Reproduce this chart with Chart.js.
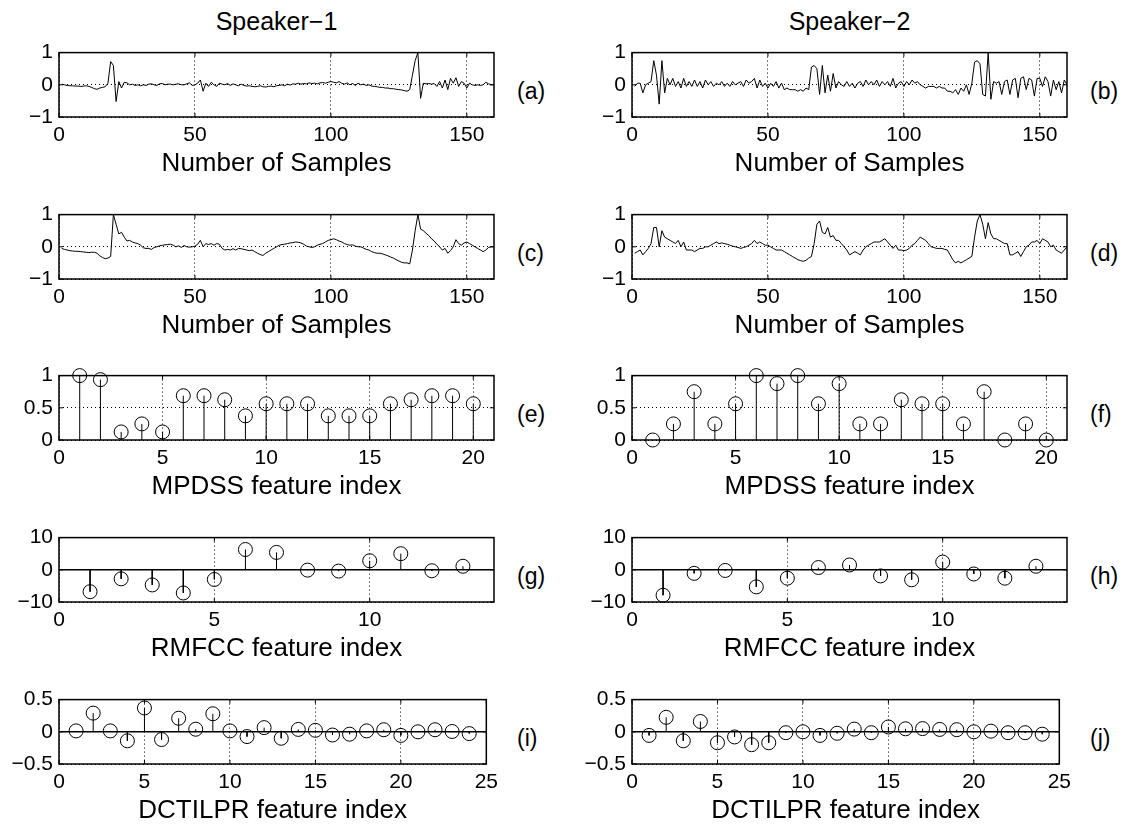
<!DOCTYPE html>
<html><head><meta charset="utf-8">
<script src="https://cdn.jsdelivr.net/npm/chart.js@4.4.0/dist/chart.umd.min.js"></script>
<style>
html,body{margin:0;padding:0;background:#fff;}
body{width:1121px;height:829px;position:relative;overflow:hidden;font-family:'Liberation Sans',Arial,Helvetica,sans-serif;}
canvas{position:absolute;}
.t{position:absolute;color:#000;white-space:nowrap;}
</style></head><body>
<script>
// ---------- data ----------
const speakers = ['Speaker−1', 'Speaker−2'];
const panelLabels = ['(a)','(b)','(c)','(d)','(e)','(f)','(g)','(h)','(i)','(j)'];
const xTitles = ['Number of Samples','Number of Samples','MPDSS feature index','RMFCC feature index','DCTILPR feature index'];

const sampleTicks = [0,50,100,150];
const mpdssTicks = [0,5,10,15,20];
const rmfccTicks = [0,5,10];
const dctTicks = [0,5,10,15,20,25];
const waveYTicks = [-1,0,1];
const mpdssYTicks = [0,0.5,1];
const rmfccYTicks = [-10,0,10];
const dctYTicks = [-0.5,0,0.5];

const s1Wave = [
 0.02,0.0,-0.02,-0.03,-0.03,-0.04,-0.04,-0.05,-0.04,-0.03,
 -0.05,-0.08,-0.12,-0.14,-0.1,-0.08,-0.06,0.05,0.72,0.6,
 -0.52,0.1,-0.1,0.08,0.06,0.0,0.02,-0.02,0.0,-0.03,
 0.0,-0.02,0.02,0.03,0.0,-0.02,0.03,0.04,0.0,0.02,
 0.02,0.0,0.02,0.03,0.0,0.0,0.03,0.06,-0.02,0.0,
 0.05,0.15,-0.2,0.05,-0.05,0.08,0.0,-0.05,0.05,0.02,
 0.0,0.04,-0.02,0.03,0.0,-0.03,0.02,-0.02,-0.04,-0.03,
 -0.05,-0.06,-0.05,-0.03,-0.06,-0.07,-0.05,-0.04,-0.06,-0.03,
 -0.02,0.0,-0.03,0.02,-0.01,0.03,0.02,0.05,0.02,0.04,
 0.03,0.06,0.04,0.05,0.03,0.06,0.07,0.05,0.08,0.1,
 0.08,0.06,0.1,0.05,0.02,0.06,0.0,0.04,-0.02,0.05,
 0.0,0.02,-0.02,0.0,-0.04,-0.05,-0.06,-0.08,-0.08,-0.1,
 -0.1,-0.12,-0.12,-0.14,-0.15,-0.16,-0.18,-0.2,-0.15,0.3,
 0.75,1.0,-0.42,0.05,0.03,0.04,0.02,0.04,-0.05,0.1,
 -0.1,0.15,-0.15,0.2,0.05,0.22,-0.05,0.1,0.05,-0.1,
 0.05,0.0,-0.02,0.0,-0.02,0.0,0.08,0.03,0.0,0.0
];
const s2Wave = [
 -0.05,0.05,0.05,-0.25,0.0,0.05,0.1,0.75,0.3,-0.6,
 0.75,-0.25,0.2,0.0,0.2,-0.05,0.1,-0.1,0.2,-0.05,
 0.1,-0.05,0.15,-0.05,0.1,-0.1,0.15,0.0,0.1,-0.05,
 0.05,0.0,0.1,-0.05,0.05,-0.05,0.1,0.0,0.05,0.1,
 -0.05,0.15,0.05,0.1,0.2,-0.1,0.15,-0.05,0.05,-0.1,
 0.05,-0.05,0.1,-0.1,0.05,-0.15,-0.1,-0.15,-0.15,-0.15,
 -0.2,-0.15,-0.2,-0.1,-0.15,0.55,0.6,0.5,-0.3,0.6,
 -0.25,0.3,-0.2,0.35,-0.1,0.1,0.0,-0.05,0.1,-0.05,
 0.05,-0.1,0.05,0.1,-0.05,0.15,0.0,0.1,0.0,0.15,
 -0.05,0.1,0.0,0.1,-0.05,0.2,-0.1,0.05,0.1,-0.05,
 0.1,0.0,0.15,0.05,0.1,0.0,-0.05,-0.1,-0.05,-0.05,
 -0.05,-0.1,-0.05,-0.1,-0.1,-0.2,-0.2,-0.25,-0.15,-0.3,
 -0.1,-0.2,0.0,-0.3,0.05,0.7,0.75,0.65,-0.3,-0.35,
 1.0,-0.45,0.1,0.05,0.1,-0.3,0.1,0.15,-0.3,0.15,
 0.2,-0.4,0.2,0.25,-0.15,0.2,0.15,-0.35,0.2,0.2,
 -0.05,0.25,0.1,-0.35,0.15,-0.15,0.1,-0.25,0.15,0.0
];
const s1Res = [
 -0.05,-0.08,-0.1,-0.12,-0.13,-0.14,-0.14,-0.15,-0.16,-0.17,
 -0.18,-0.17,-0.17,-0.2,-0.28,-0.33,-0.37,-0.35,-0.3,1.0,
 0.7,0.4,0.45,0.3,0.18,0.2,0.15,0.12,0.1,0.05,
 -0.03,-0.05,-0.05,-0.08,-0.02,0.0,0.03,0.05,0.06,0.07,
 0.08,0.05,0.0,0.03,-0.02,0.04,0.0,-0.01,0.0,0.02,
 0.08,0.2,0.0,0.1,0.07,0.1,0.05,0.1,0.08,-0.05,
 -0.1,-0.08,-0.1,-0.06,-0.1,-0.05,-0.06,-0.08,-0.1,-0.12,
 -0.1,-0.15,-0.2,-0.24,-0.27,-0.2,-0.15,-0.1,-0.05,0.0,
 0.05,0.07,0.08,0.1,0.12,0.13,0.15,0.14,0.12,0.08,
 0.02,0.0,-0.02,0.0,0.05,0.08,0.1,0.15,0.2,0.22,
 0.25,0.22,0.18,0.15,0.1,0.07,0.05,0.06,0.02,0.0,
 0.0,-0.04,-0.08,-0.1,-0.15,-0.18,-0.2,-0.2,-0.22,-0.25,
 -0.28,-0.32,-0.35,-0.4,-0.44,-0.48,-0.5,-0.5,-0.53,-0.1,
 0.5,1.0,0.55,0.5,0.42,0.35,0.25,0.18,0.08,0.0,
 -0.1,-0.05,-0.2,-0.12,0.0,0.22,0.1,0.05,0.12,0.15,
 0.1,0.05,0.0,-0.05,-0.1,-0.15,-0.1,-0.02,0.0,0.0
];
const s2Res = [
 -0.2,-0.15,-0.1,-0.25,-0.15,-0.05,0.1,0.6,0.6,0.0,
 0.5,0.3,0.25,0.2,0.15,0.1,0.2,0.0,0.15,-0.1,
 -0.1,-0.1,-0.15,-0.1,-0.05,-0.05,0.0,0.0,0.05,0.1,
 0.15,0.1,0.12,0.1,0.08,0.05,0.02,0.0,-0.02,-0.05,
 -0.02,0.0,0.05,0.1,0.2,0.1,0.15,0.1,0.05,0.05,
 0.0,-0.05,-0.1,-0.1,-0.1,-0.15,-0.2,-0.25,-0.3,-0.35,
 -0.4,-0.43,-0.45,-0.42,-0.35,-0.3,0.1,0.7,0.8,0.45,
 0.4,0.6,0.3,0.35,0.2,0.2,0.1,0.0,-0.1,-0.25,
 -0.2,-0.15,-0.2,-0.25,-0.1,0.0,0.05,0.1,0.15,0.15,
 0.15,0.2,0.25,0.15,0.05,-0.05,0.05,-0.1,-0.1,-0.12,
 -0.1,-0.05,0.05,0.1,0.2,0.3,0.25,0.2,0.1,0.0,
 -0.02,-0.05,-0.05,-0.05,-0.08,-0.1,-0.25,-0.4,-0.5,-0.45,
 -0.5,-0.45,-0.4,-0.35,-0.3,0.3,0.8,1.0,0.7,0.25,
 0.75,0.4,0.25,0.25,0.2,0.15,0.1,0.1,-0.25,-0.25,
 -0.2,-0.15,-0.3,-0.15,0.0,0.05,0.15,0.15,0.2,0.1,
 0.25,0.2,0.15,0.0,0.05,-0.1,-0.15,-0.2,-0.1,0.0
];
const s1Mpdss = [1.0,0.9375,0.125,0.25,0.125,0.6875,0.6875,0.625,0.375,0.5625,0.5625,0.5625,0.375,0.375,0.375,0.5625,0.625,0.6875,0.6875,0.5625];
const s2Mpdss = [0,0.25,0.75,0.25,0.5625,1.0,0.875,1.0,0.5625,0.875,0.25,0.25,0.625,0.5625,0.5625,0.25,0.75,0,0.25,0];
const s1Rmfcc = [-6.8,-2.8,-4.7,-7.2,-3.0,6.3,5.4,-0.1,-0.4,2.8,5.0,-0.3,1.1];
const s2Rmfcc = [-7.9,-1.1,-0.2,-5.3,-2.6,0.7,1.5,-1.9,-3.1,2.4,-1.3,-2.6,1.1];
const s1Dct = [0.014,0.29,0.014,-0.14,0.37,-0.12,0.21,0.04,0.28,0.014,-0.074,0.065,-0.10,0.037,0.023,-0.05,-0.037,0.014,0.032,-0.056,0.0,0.032,0.005,-0.028];
const s2Dct = [-0.056,0.225,-0.14,0.16,-0.17,-0.08,-0.2,-0.17,-0.014,0.0,-0.056,-0.023,0.042,-0.014,0.075,0.047,0.05,0.037,0.033,0.0,0.01,-0.014,-0.014,-0.037];

// ---------- layout ----------
const FONT = "'Liberation Sans', Arial, Helvetica, sans-serif";
const TICK_FS = 21, LABEL_FS = 26, TITLE_FS = 25, PANEL_FS = 23;
const colLeft = [59, 632];
const boxW = 435, boxH = 73;
const rowTop = [44, 206, 367, 529, 691];
const padL = 59, padT = 10, padR = 10, axisH = 70;

Chart.defaults.font.family = FONT;
Chart.defaults.font.size = TICK_FS;
Chart.defaults.color = '#000';

const panels = [
 {wave:s1Wave, xMax:160, xt:sampleTicks, yMin:-1, yMax:1, yt:waveYTicks},
 {wave:s2Wave, xMax:160, xt:sampleTicks, yMin:-1, yMax:1, yt:waveYTicks},
 {wave:s1Res, xMax:160, xt:sampleTicks, yMin:-1, yMax:1, yt:waveYTicks},
 {wave:s2Res, xMax:160, xt:sampleTicks, yMin:-1, yMax:1, yt:waveYTicks},
 {stem:s1Mpdss, xMax:21, xt:mpdssTicks, yMin:0, yMax:1, yt:mpdssYTicks},
 {stem:s2Mpdss, xMax:21, xt:mpdssTicks, yMin:0, yMax:1, yt:mpdssYTicks},
 {stem:s1Rmfcc, xMax:14, xt:rmfccTicks, yMin:-10, yMax:10, yt:rmfccYTicks, base:true},
 {stem:s2Rmfcc, xMax:14, xt:rmfccTicks, yMin:-10, yMax:10, yt:rmfccYTicks, base:true},
 {stem:s1Dct, xMax:25, xt:dctTicks, yMin:-0.5, yMax:0.5, yt:dctYTicks, base:true},
 {stem:s2Dct, xMax:25, xt:dctTicks, yMin:-0.5, yMax:0.5, yt:dctYTicks, base:true}
];

const fmt = v => String(v).replace('-', '\u2212');

// axes box with MATLAB-style inward tick marks
const frame = {
  id:'frame',
  afterDraw(chart){
    const {ctx, chartArea:a, scales} = chart;
    ctx.save();
    ctx.strokeStyle = '#000';
    ctx.setLineDash([]);
    ctx.lineWidth = 1;
    const tl = 4;
    ctx.beginPath();
    scales.x.ticks.forEach(t => {
      const px = scales.x.getPixelForValue(t.value);
      ctx.moveTo(px, a.bottom); ctx.lineTo(px, a.bottom - tl);
      ctx.moveTo(px, a.top); ctx.lineTo(px, a.top + tl);
    });
    scales.y.ticks.forEach(t => {
      const py = scales.y.getPixelForValue(t.value);
      ctx.moveTo(a.left, py); ctx.lineTo(a.left + tl, py);
      ctx.moveTo(a.right, py); ctx.lineTo(a.right - tl, py);
    });
    ctx.stroke();
    ctx.lineWidth = 1.5;
    ctx.strokeRect(a.left, a.top, a.right - a.left, a.bottom - a.top);
    ctx.restore();
  }
};

// place text by its baseline (Liberation Sans metrics, line-height = 1em)
function addText(txt, fs, x, baseline, center){
  const d = document.createElement('div');
  d.className = 't'; d.textContent = txt;
  d.style.fontSize = fs + 'px'; d.style.lineHeight = fs + 'px';
  d.style.left = x + 'px';
  d.style.top = (baseline - 0.8465 * fs) + 'px';
  if (center) d.style.transform = 'translateX(-50%)';
  document.body.appendChild(d);
}

speakers.forEach((s, c) => addText(s, TITLE_FS, colLeft[c] + boxW/2, 30, true));

panels.forEach((p, i) => {
  const col = i % 2, row = Math.floor(i / 2);
  const cv = document.createElement('canvas');
  const W = padL + boxW + padR, H = padT + boxH + axisH;
  cv.width = W; cv.height = H;
  cv.style.left = (colLeft[col] - padL) + 'px';
  cv.style.top = (rowTop[row] - padT) + 'px';
  cv.style.width = W + 'px'; cv.style.height = H + 'px';
  document.body.appendChild(cv);

  const datasets = [];
  if (p.wave) {
    datasets.push({type:'line', data:p.wave.map((v,k)=>({x:k+1, y:v})), borderColor:'#000', borderWidth:1, pointRadius:0, tension:0});
  } else {
    if (p.base) datasets.push({type:'line', data:[{x:0,y:0},{x:p.xMax,y:0}], borderColor:'#000', borderWidth:1.5, pointRadius:0});
    const st = [];
    p.stem.forEach((v,k)=>{ st.push({x:k+1,y:0},{x:k+1,y:v},{x:k+1,y:null}); });
    datasets.push({type:'line', data:st, borderColor:'#000', borderWidth:1, pointRadius:0, spanGaps:false});
    datasets.push({type:'scatter', data:p.stem.map((v,k)=>({x:k+1,y:v})), pointStyle:'circle', pointRadius:7, pointBorderWidth:1, pointBorderColor:'#000', pointBackgroundColor:'rgba(0,0,0,0)', clip:false});
  }

  addText(panelLabels[i], PANEL_FS, colLeft[col] + boxW + 23, rowTop[row] + boxH/2 + 19, false);

  new Chart(cv, {
    type:'scatter',
    data:{datasets},
    plugins:[frame],
    options:{
      responsive:false, animation:false, devicePixelRatio:1,
      layout:{padding:{top:padT, right:padR, left:0, bottom:0}},
      plugins:{legend:{display:false}, tooltip:{enabled:false}},
      scales:{
        x:{type:'linear', min:0, max:p.xMax,
           afterBuildTicks:s=>{ s.ticks = p.xt.map(v=>({value:v})); },
           afterFit:s=>{ s.height = axisH; },
           ticks:{padding:6, maxRotation:0, autoSkip:false, color:'#000', font:{size:TICK_FS}, callback:v=>fmt(v)},
           grid:{color:'#000', lineWidth:1, drawTicks:false},
           border:{display:false, dash:[1,3]},
           title:{display:true, text:xTitles[row], color:'#000', font:{size:LABEL_FS}, padding:{top:0,bottom:8}}
        },
        y:{type:'linear', min:p.yMin, max:p.yMax,
           afterBuildTicks:s=>{ s.ticks = p.yt.map(v=>({value:v})); },
           afterFit:s=>{ s.width = padL; },
           ticks:{padding:6, color:'#000', font:{size:TICK_FS}, callback:v=>fmt(v)},
           grid:{color:'#000', lineWidth:1, drawTicks:false},
           border:{display:false, dash:[1,3]}
        }
      }
    }
  });
});
</script>
</body></html>
